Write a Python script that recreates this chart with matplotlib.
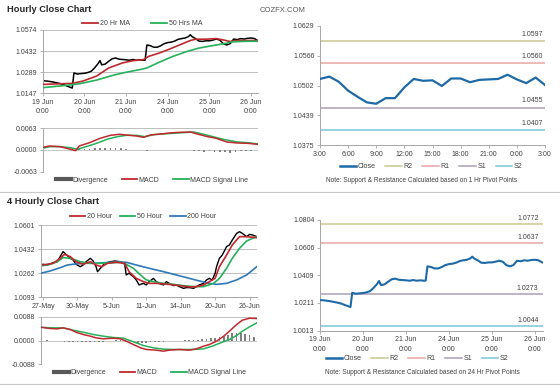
import matplotlib
matplotlib.use('Agg')
import matplotlib.pyplot as plt
from matplotlib.lines import Line2D

plt.rcParams['font.family'] = ['Liberation Sans', 'DejaVu Sans']

# hourly closes, 19 Jun 0:00 -> 26 Jun ~4:00 (hour index, weekend skipped)
hourly_x = [0, 2, 4, 6, 8, 10, 12, 14, 16, 17, 18, 20, 22, 24, 26, 28, 30, 32, 33, 34,
            36, 38, 40, 42, 44, 46, 48, 50, 52, 54, 56, 58, 59, 60, 62, 64, 66, 68, 70, 72,
            74, 76, 78, 80, 82, 84, 85, 86, 88, 90, 92, 94, 96, 98, 100, 102, 104, 106, 108, 110,
            112, 114, 116, 118, 120, 122, 124]
hourly_close = [1.0232, 1.0230, 1.0227, 1.0223, 1.0218, 1.0213, 1.0206, 1.0196, 1.0187, 1.0182,
                1.0284, 1.0277, 1.0280, 1.0282, 1.0287, 1.0296, 1.0320, 1.0349, 1.0368, 1.0339,
                1.0344, 1.0363, 1.0380, 1.0385, 1.0377, 1.0375, 1.0373, 1.0370, 1.0375, 1.0370,
                1.0373, 1.0370, 1.0371, 1.0473, 1.0468, 1.0458, 1.0458, 1.0468, 1.0482, 1.0489,
                1.0492, 1.0499, 1.0511, 1.0516, 1.0520, 1.0530, 1.0542, 1.0530, 1.0516, 1.0499,
                1.0497, 1.0501, 1.0501, 1.0506, 1.0513, 1.0506, 1.0482, 1.0473, 1.0482, 1.0513,
                1.0509, 1.0516, 1.0513, 1.0518, 1.0520, 1.0516, 1.0501]
hourly_days = ['19 Jun\n0:00', '20 Jun\n0:00', '21 Jun\n0:00', '24 Jun\n0:00', '25 Jun\n0:00', '26 Jun\n0:00']

ma20_x = [0, 17, 23, 31, 38, 46, 52, 58, 61, 67, 73, 79, 85, 88, 94, 100, 104, 108, 111, 117, 124]
ma20 = [1.0207, 1.0214, 1.0229, 1.0263, 1.0318, 1.0352, 1.0367, 1.0374, 1.0396, 1.0418, 1.0445,
        1.0474, 1.0503, 1.0512, 1.0512, 1.0516, 1.0507, 1.0496, 1.0503, 1.0503, 1.0503]
ma50_x = [0, 13, 21, 31, 40, 48, 56, 60, 67, 75, 83, 90, 98, 106, 109, 117, 124]
ma50 = [1.0185, 1.0200, 1.0211, 1.0236, 1.0267, 1.0289, 1.0307, 1.0318, 1.0356, 1.0396, 1.0429,
        1.0452, 1.0469, 1.0485, 1.0494, 1.0498, 1.0498]

macd1_x = [0, 4, 10, 16, 19, 21, 27, 33, 39, 44, 48, 54, 58, 62, 68, 73, 79, 85, 89, 95, 100, 106, 112, 118, 124]
macd1 = [0.00078, 0.00116, 0.00097, 0.00020, -0.00020, 0.00116, 0.00213, 0.00339, 0.00426, 0.00456,
         0.00436, 0.00407, 0.00368, 0.00436, 0.00465, 0.00494, 0.00514, 0.00523, 0.00465, 0.00388,
         0.00339, 0.00233, 0.00204, 0.00194, 0.00165]
signal1_x = [0, 4, 10, 16, 20, 25, 31, 37, 43, 48, 54, 59, 64, 69, 75, 81, 87, 92, 98, 104, 112, 118, 124]
signal1 = [0.00048, 0.00097, 0.00097, 0.00068, 0.00020, 0.00097, 0.00194, 0.00310, 0.00388, 0.00426,
           0.00426, 0.00388, 0.00446, 0.00465, 0.00485, 0.00504, 0.00523, 0.00465, 0.00388, 0.00310,
           0.00233, 0.00213, 0.00174]
div1_x = list(range(0, 124, 3))
div1 = [0.0001, 0.0001, 0.0, 0.0, -0.0001, 0.0, -0.0002, 0.0002, 0.0003, 0.0004, 0.0005, 0.0006,
        0.0007, 0.0007, 0.0006, 0.0005, 0.0002, 0.0001, -0.0001, -0.0001, -0.0002, 0.0, 0.0001,
        0.0001, 0.0001, 0.0001, 0.0001, 0.0001, 0.0, -0.0002, -0.0004, -0.0005, -0.0004, -0.0005,
        -0.0006, -0.0007, -0.0008, -0.0006, -0.0004, -0.0003, -0.0002, -0.0001]

# last 24 hours with pivot levels (1 Hr)
day_x = list(range(25))
day_close = [1.0516, 1.0521, 1.0510, 1.0491, 1.0478, 1.0466, 1.0463, 1.0475, 1.0475, 1.0498,
             1.0516, 1.0512, 1.0513, 1.0501, 1.0517, 1.0517, 1.0509, 1.0514, 1.0515, 1.0516,
             1.0525, 1.0515, 1.0507, 1.0519, 1.0503]
day_labels = ['3:00', '6:00', '9:00', '12:00', '15:00', '18:00', '21:00', '0:00', '3:00']
pivot_1h = {'R2': 1.0597, 'R1': 1.0550, 'S1': 1.0455, 'S2': 1.0407}
pivot_1h_text = {'R2': '1.0597', 'R1': '1.0560', 'S1': '1.0455', 'S2': '1.0407'}
pivot_24h = {'R2': 1.0772, 'R1': 1.0637, 'S1': 1.0273, 'S2': 1.0044}

# 4 hour bars, 27 May -> 26 Jun
bars_x = [0, 3, 5, 7, 10, 12, 14, 16, 19, 21, 23, 26, 28, 30, 33, 35, 37, 38, 41, 43,
          47, 50, 54, 57, 58, 60, 63, 65, 67, 70, 72, 74, 77, 79, 81, 84, 86, 88, 91, 93,
          95, 98, 100, 102, 105, 107, 109, 112, 114, 116, 118, 120, 121, 123, 125, 128, 130, 132, 135, 137,
          139, 142, 144, 146, 149]
bars_close = [1.0325, 1.0320, 1.0327, 1.0336, 1.0343, 1.0379, 1.0414, 1.0395, 1.0367, 1.0355,
              1.0325, 1.0308, 1.0320, 1.0343, 1.0367, 1.0348, 1.0308, 1.0273, 1.0308, 1.0332,
              1.0343, 1.0348, 1.0343, 1.0325, 1.0250, 1.0262, 1.0238, 1.0215, 1.0180, 1.0191,
              1.0180, 1.0203, 1.0226, 1.0203, 1.0191, 1.0180, 1.0203, 1.0191, 1.0175, 1.0180,
              1.0168, 1.0156, 1.0161, 1.0161, 1.0156, 1.0168, 1.0180, 1.0191, 1.0215, 1.0226,
              1.0215, 1.0262, 1.0308, 1.0367, 1.0390, 1.0449, 1.0461, 1.0496, 1.0542, 1.0554,
              1.0542, 1.0519, 1.0535, 1.0531, 1.0519]
bars_labels = ['27-May', '30-May', '5-Jun', '11-Jun', '14-Jun', '20-Jun', '26-Jun']

h20_x = [0, 7, 12, 15, 19, 23, 28, 33, 37, 41, 45, 51, 57, 60, 65, 70, 74, 79, 88, 95,
         102, 107, 112, 116, 120, 123, 128, 132, 137, 142, 149]
h20 = [1.0320, 1.0332, 1.0367, 1.0395, 1.0379, 1.0343, 1.0325, 1.0343, 1.0320, 1.0308,
       1.0332, 1.0339, 1.0332, 1.0273, 1.0226, 1.0203, 1.0191, 1.0191, 1.0184, 1.0175,
       1.0166, 1.0168, 1.0180, 1.0203, 1.0226, 1.0308, 1.0390, 1.0461, 1.0519, 1.0519, 1.0512]
h50_x = [0, 5, 10, 14, 19, 26, 33, 40, 47, 54, 58, 63, 68, 72, 77, 84, 91, 98, 105, 112,
         119, 123, 128, 132, 137, 142, 146, 149]
h50 = [1.0315, 1.0325, 1.0343, 1.0372, 1.0367, 1.0343, 1.0332, 1.0332, 1.0336, 1.0339,
       1.0325, 1.0297, 1.0250, 1.0215, 1.0203, 1.0191, 1.0184, 1.0175, 1.0168, 1.0168,
       1.0191, 1.0226, 1.0297, 1.0367, 1.0437, 1.0489, 1.0507, 1.0519]
h200_x = [-1.6, 5, 12, 17, 21, 28, 37, 47, 54, 58, 65, 74, 84, 93, 102, 109, 116, 121, 128, 135, 142, 149]
h200 = [1.0262, 1.0278, 1.0301, 1.0320, 1.0325, 1.0332, 1.0332, 1.0339, 1.0341, 1.0339,
        1.0320, 1.0297, 1.0273, 1.0250, 1.0226, 1.0208, 1.0191, 1.0184, 1.0191, 1.0215, 1.0250, 1.0308]

macd4_x = [-1.6, 5, 10, 14, 19, 23, 28, 33, 37, 42, 49, 54, 58, 63, 68, 72, 79, 84, 88, 95,
           102, 107, 112, 116, 121, 126, 130, 135, 139, 144, 149]
macd4 = [0.00492, 0.00443, 0.00431, 0.00468, 0.00406, 0.00308, 0.00222, 0.00160, 0.00098, 0.00062,
         0.00086, 0.00062, -0.00025, -0.00148, -0.00271, -0.00332, -0.00357, -0.00394, -0.00357, -0.00332,
         -0.00357, -0.00308, -0.00209, -0.00148, -0.00025, 0.00160, 0.00345, 0.00591, 0.00751, 0.00825, 0.00812]
signal4_x = [-1.6, 5, 14, 21, 28, 35, 42, 49, 56, 60, 65, 70, 77, 84, 91, 98, 105, 112, 118, 125,
             130, 135, 139, 144, 149]
signal4 = [0.00492, 0.00468, 0.00468, 0.00382, 0.00308, 0.00222, 0.00160, 0.00111, 0.00086, 0.00012,
           -0.00086, -0.00185, -0.00271, -0.00320, -0.00332, -0.00332, -0.00332, -0.00308, -0.00209, -0.00062,
           0.00037, 0.00185, 0.00345, 0.00505, 0.00652]
div4_x = list(range(0, 148, 3))
div4 = [0.0, 0.0001, 0.0, -0.0001, -0.0002, -0.0004, -0.0005, -0.0006, -0.0007, -0.0006,
        -0.0005, -0.0006, -0.0007, -0.0005, -0.0004, -0.0002, -0.0001, 0.0001, 0.0002, 0.0001,
        -0.0003, -0.0006, -0.0008, -0.0009, -0.0008, -0.0006, -0.0005, -0.0004, -0.0004, -0.0003,
        -0.0002, -0.0001, 0.0, 0.0001, 0.0001, 0.0002, 0.0003, 0.0004, 0.0006, 0.0008,
        0.0011, 0.0014, 0.0018, 0.0022, 0.0026, 0.0028, 0.0027, 0.0024, 0.0019, 0.0013]

RED = '#c0282d'
GREEN = '#25b15a'
BLUE = '#2f79b9'
CLOSE = '#1e6aa6'
GRAY = '#7f7f7f'
TEXT = '#404040'
AXIS = '#a6a6a6'
PIVOT_COLORS = {'R2': '#c9c98f', 'R1': '#e8a5a5', 'S1': '#a8a0b8', 'S2': '#7fc4d4'}

W, H = 560, 386
fig = plt.figure(figsize=(W / 100, H / 100), dpi=100)


def add_ax(left, top, right, bottom):
    return fig.add_axes([left / W, 1 - bottom / H, (right - left) / W, (bottom - top) / H])


def style(ax, yticks, fmt='%.4f', grid=False, bottom=True):
    ax.spines['top'].set_visible(False)
    ax.spines['right'].set_visible(False)
    ax.spines['left'].set_color(AXIS)
    ax.spines['bottom'].set_color(AXIS)
    ax.spines['bottom'].set_visible(bottom)
    ax.spines['left'].set_linewidth(0.7)
    ax.spines['bottom'].set_linewidth(0.7)
    ax.set_ylim(yticks[0], yticks[-1])
    ax.set_yticks(yticks)
    ax.set_yticklabels([fmt % v for v in yticks])
    ax.tick_params(labelsize=5, labelcolor=TEXT, color=AXIS, length=2.5, width=0.6, pad=1.5)
    if grid:
        for v in yticks[1:]:
            ax.axhline(v, color='#bfbfbf', lw=0.7, zorder=0)


def legend(handles, labels, cx, cy, spacing=1.6, hl=2.4):
    fig.legend(handles, labels, loc='center', bbox_to_anchor=(cx / W, 1 - cy / H), ncol=len(labels),
               frameon=False, fontsize=5, handlelength=hl, columnspacing=spacing, handletextpad=0.2,
               labelcolor=TEXT, borderpad=0)


def line(color, lw=1.3):
    return Line2D([0], [0], color=color, lw=lw)


# ---------------- hourly close chart ----------------
fig.text(7 / W, 1 - 9 / H, 'Hourly Close Chart', fontsize=6.7, fontweight='bold', color='#262626', va='center')
fig.text(283 / W, 1 - 10 / H, 'COZFX.COM', fontsize=5.5, color='#595959', ha='center', va='center')

ax = add_ax(42.7, 30, 258, 93.3)
ax.plot(hourly_x, hourly_close, color='black', lw=1.1, zorder=2)
ax.plot(ma20_x, ma20, color=RED, lw=1.2, zorder=3)
ax.plot(ma50_x, ma50, color=GREEN, lw=1.2, zorder=3)
style(ax, [1.0147, 1.0289, 1.0432, 1.0574], grid=True)
ax.set_xlim(0, 124)
ax.set_xticks(range(0, 121, 24))
ax.set_xticklabels(hourly_days, linespacing=1.5)
legend([line(RED), line(GREEN)], ['20 Hr MA', '50 Hrs MA'], 142, 23.5, spacing=3)

ax = add_ax(42.7, 128.3, 258, 171.7)
ax.bar(div1_x, div1, width=1.0, color=GRAY, zorder=1)
ax.plot(macd1_x, macd1, color=RED, lw=1.1, zorder=3)
ax.plot(signal1_x, signal1, color=GREEN, lw=1.1, zorder=2)
style(ax, [-0.0063, 0.0, 0.0063], bottom=False)
ax.axhline(0.0063, color='#bfbfbf', lw=0.7, zorder=0)
ax.axhline(0.0, color='#bfbfbf', lw=0.6, zorder=0)
ax.set_xlim(0, 124)
ax.set_xticks([])
legend([line('#595959', 3), line(RED), line(GREEN)], ['Divergence', 'MACD', 'MACD Signal Line'],
       152, 180, spacing=2.0, hl=2.2)

ax = add_ax(320, 26, 545, 145)
for k in ['R2', 'R1', 'S1', 'S2']:
    ax.axhline(pivot_1h[k], color=PIVOT_COLORS[k], lw=1.1, zorder=1)
    ax.text(0.99, pivot_1h[k] + 0.0007, pivot_1h_text[k], transform=ax.get_yaxis_transform(),
            ha='right', va='bottom', fontsize=5, color=TEXT)
ax.plot(day_x, day_close, color=CLOSE, lw=1.6, zorder=3)
style(ax, [1.0375, 1.0439, 1.0502, 1.0566, 1.0629])
ax.set_xlim(0, 24)
ax.set_xticks(range(0, 25, 3))
ax.set_xticklabels(day_labels)
legend([line(CLOSE, 1.8)] + [line(PIVOT_COLORS[k], 1.1) for k in ['R2', 'R1', 'S1', 'S2']],
       ['Close', 'R2', 'R1', 'S1', 'S2'], 431, 167, spacing=1.4)
fig.text(422 / W, 1 - 180 / H, 'Note: Support & Resistance Calculated based on 1 Hr Pivot Points',
         fontsize=4.7, color=TEXT, ha='center', va='center')

# separators
for y in [192, 384]:
    fig.add_artist(Line2D([0, 1], [1 - y / H, 1 - y / H], transform=fig.transFigure, color='#c8c8c8', lw=0.8))

# ---------------- 4 hourly close chart ----------------
fig.text(7 / W, 1 - 201.7 / H, '4 Hourly Close Chart', fontsize=6.7, fontweight='bold', color='#262626', va='center')

ax = add_ax(40.7, 225, 256.7, 297.3)
ax.plot(bars_x, bars_close, color='black', lw=1.0, zorder=2)
ax.plot(h200_x, h200, color=BLUE, lw=1.2, zorder=3)
ax.plot(h50_x, h50, color=GREEN, lw=1.2, zorder=3)
ax.plot(h20_x, h20, color=RED, lw=1.2, zorder=4)
style(ax, [1.0093, 1.0262, 1.0432, 1.0601], grid=True)
ax.set_xlim(-1.6, 149)
ax.set_xticks(range(0, 145, 24))
ax.set_xticklabels(bars_labels)
legend([line(RED), line(GREEN), line(BLUE)], ['20 Hour', '50 Hour', '200 Hour'], 143, 217,
       spacing=1.2, hl=2.2)

ax = add_ax(40.7, 316.7, 256.7, 364.3)
ax.bar(div4_x, div4, width=1.2, color=GRAY, zorder=1)
ax.plot(macd4_x, macd4, color=RED, lw=1.1, zorder=3)
ax.plot(signal4_x, signal4, color=GREEN, lw=1.1, zorder=2)
style(ax, [-0.0088, 0.0, 0.0088], bottom=False)
ax.axhline(0.0088, color='#bfbfbf', lw=0.7, zorder=0)
ax.axhline(0.0, color='#bfbfbf', lw=0.6, zorder=0)
ax.set_xlim(-1.6, 149)
ax.set_xticks([])
legend([line('#595959', 3), line(RED), line(GREEN)], ['Divergence', 'MACD', 'MACD Signal Line'],
       150, 373, spacing=2.0, hl=2.2)

ax = add_ax(320, 220, 543, 330.7)
for k in ['R2', 'R1', 'S1', 'S2']:
    ax.axhline(pivot_24h[k], color=PIVOT_COLORS[k], lw=1.1, zorder=1)
    ax.text(0.98, pivot_24h[k] + 0.002, '%.4f' % pivot_24h[k], transform=ax.get_yaxis_transform(),
            ha='right', va='bottom', fontsize=5, color=TEXT)
ax.plot(hourly_x, hourly_close, color=CLOSE, lw=1.5, zorder=3)
style(ax, [1.0013, 1.0211, 1.0409, 1.0606, 1.0804])
ax.set_xlim(0, 124.5)
ax.set_xticks(range(0, 121, 24))
ax.set_xticklabels(hourly_days, linespacing=1.5)
legend([line(CLOSE, 1.8)] + [line(PIVOT_COLORS[k], 1.1) for k in ['R2', 'R1', 'S1', 'S2']],
       ['Close', 'R2', 'R1', 'S1', 'S2'], 417, 359, spacing=1.4)
fig.text(422 / W, 1 - 373 / H, 'Note: Support & Resistance Calculated based on 24 Hr Pivot Points',
         fontsize=4.7, color=TEXT, ha='center', va='center')

fig.savefig('out.png', dpi=100, facecolor='white')
